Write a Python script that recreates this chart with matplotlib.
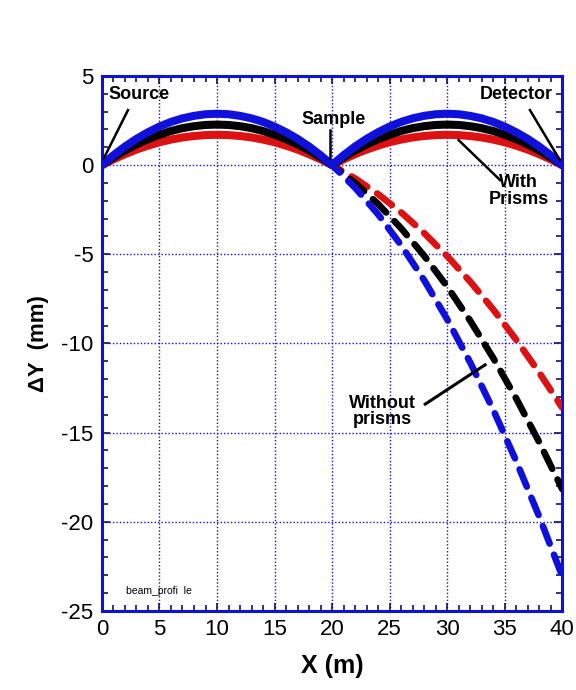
import matplotlib
matplotlib.use("Agg")
import matplotlib.pyplot as plt
from matplotlib.ticker import MultipleLocator

plt.rcParams['font.family'] = ['Liberation Sans', 'DejaVu Sans']
plt.rcParams['axes.unicode_minus'] = False

# beam height along the flight path (m -> mm)
x_arc = list(range(0, 41))
red_arc = [0, 0.32, 0.61, 0.87, 1.09, 1.28, 1.43, 1.55, 1.63, 1.68, 1.70,
           1.68, 1.63, 1.55, 1.43, 1.28, 1.09, 0.87, 0.61, 0.32, 0,
           0.32, 0.61, 0.87, 1.09, 1.28, 1.43, 1.55, 1.63, 1.68, 1.70,
           1.68, 1.63, 1.55, 1.43, 1.28, 1.09, 0.87, 0.61, 0.32, 0]
black_arc = [0, 0.43, 0.82, 1.16, 1.45, 1.70, 1.91, 2.07, 2.18, 2.25, 2.27,
             2.25, 2.18, 2.07, 1.91, 1.70, 1.45, 1.16, 0.82, 0.43, 0,
             0.43, 0.82, 1.16, 1.45, 1.70, 1.91, 2.07, 2.18, 2.25, 2.27,
             2.25, 2.18, 2.07, 1.91, 1.70, 1.45, 1.16, 0.82, 0.43, 0]
blue_arc = [0, 0.55, 1.04, 1.47, 1.84, 2.16, 2.42, 2.62, 2.76, 2.85, 2.88,
            2.85, 2.76, 2.62, 2.42, 2.16, 1.84, 1.47, 1.04, 0.55, 0,
            0.55, 1.04, 1.47, 1.84, 2.16, 2.42, 2.62, 2.76, 2.85, 2.88,
            2.85, 2.76, 2.62, 2.42, 2.16, 1.84, 1.47, 1.04, 0.55, 0]

x_fall = [20, 22, 24, 26, 28, 30, 32, 34, 36, 38, 40]
red_fall = [0, -0.75, -1.63, -2.65, -3.81, -5.10, -6.53, -8.09, -9.79, -11.63, -13.60]
black_fall = [0, -1.00, -2.18, -3.54, -5.08, -6.81, -8.72, -10.81, -13.08, -15.53, -18.16]
blue_fall = [0, -1.27, -2.76, -4.49, -6.45, -8.64, -11.06, -13.71, -16.59, -19.70, -23.04]

colors = ['#dd1111', 'black', '#1010dd']
axis_blue = '#1010dd'

fig = plt.figure(figsize=(5.76, 6.9), dpi=100)
ax = fig.add_axes([0.177, 0.1145, 0.799, 0.7755])

for yf, c in zip([red_fall, black_fall, blue_fall], colors):
    ax.plot(x_fall, yf, color=c, lw=4.8, ls=(1.2, (2.8, 1.8)),
            dash_capstyle='round', zorder=3)
for ya, c in zip([red_arc, black_arc, blue_arc], colors):
    ax.plot(x_arc, ya, color=c, lw=5.8, solid_capstyle='round',
            solid_joinstyle='round', zorder=4)

ax.set_xlim(0, 40)
ax.set_ylim(-25, 5)
ax.xaxis.set_major_locator(MultipleLocator(5))
ax.xaxis.set_minor_locator(MultipleLocator(1))
ax.yaxis.set_major_locator(MultipleLocator(5))
ax.yaxis.set_minor_locator(MultipleLocator(1))
ax.tick_params(which='both', direction='in', top=True, right=True,
               color='#101060', labelsize=16)
ax.tick_params(which='major', length=6, width=1.2, pad=6)
ax.tick_params(which='minor', length=4, width=1.2)
ax.grid(which='major', color=axis_blue, ls=(0, (1, 1.5)), lw=1)
for s in ax.spines.values():
    s.set_color(axis_blue)
    s.set_linewidth(2.2)

ax.set_xlabel('X (m)', fontsize=18, fontweight='bold', labelpad=10)
ax.set_ylabel('ΔY  (mm)', fontsize=16, fontweight='bold', labelpad=9)

bold = dict(fontsize=13, fontweight='bold', ha='center', va='center', zorder=6)
ax.text(3.2, 3.97, 'Source', **bold)
ax.plot([2.26, 0.17], [3.08, 0.39], color='black', lw=1.8, zorder=5)
ax.text(20.1, 2.57, 'Sample', **bold)
ax.plot([19.8, 19.8], [1.96, 0.39], color='black', lw=1.8, zorder=5)
ax.text(36.0, 3.97, 'Detector', **bold)
ax.plot([37.2, 39.8], [3.08, 0.28], color='black', lw=1.8, zorder=5)
ax.text(36.2, -1.45, 'With\nPrisms', linespacing=0.95, **bold)
ax.plot([31.0, 34.6], [1.4, -0.84], color='black', lw=1.8, zorder=5)
ax.text(24.4, -13.8, 'Without\nprisms', linespacing=0.95, **bold)
ax.plot([28.1, 33.3], [-13.4, -11.2], color='black', lw=2.2, zorder=5)

ax.text(2.1, -23.9, 'beam_profi  le', fontsize=7.5, ha='left', va='center')

fig.savefig('out.png', dpi=100)
